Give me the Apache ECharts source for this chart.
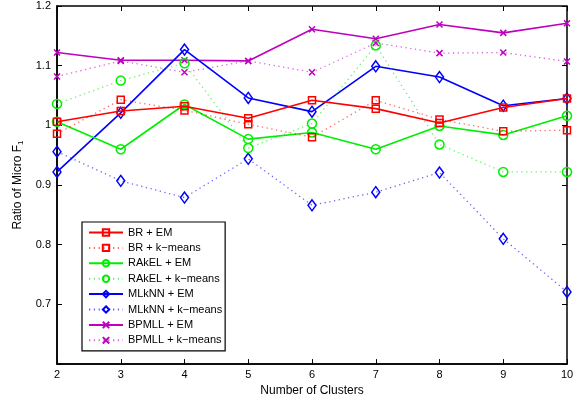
<!DOCTYPE html>
<html><head><meta charset="utf-8">
<script src="https://cdn.jsdelivr.net/npm/echarts@6/dist/echarts.min.js"></script>
<style>html,body{margin:0;padding:0;background:#fff}#c{width:578px;height:402px}</style>
</head><body><div id="c"></div>
<script>
const clusters = [2,3,4,5,6,7,8,9,10];
const seriesNames = ['BR + EM','BR + k\u2212means','RAkEL + EM','RAkEL + k\u2212means','MLkNN + EM','MLkNN + k\u2212means','BPMLL + EM','BPMLL + k\u2212means'];
const brEM        = [1.006,1.024,1.032,1.012,1.042,1.028,1.004,1.030,1.045];
const brKmeans    = [0.986,1.043,1.025,1.002,0.980,1.042,1.010,0.990,0.992];
const rakelEM     = [1.006,0.960,1.035,0.977,0.988,0.960,0.999,0.984,1.016];
const rakelKmeans = [1.036,1.075,1.104,0.962,1.003,1.134,0.968,0.922,0.922];
const mlknnEM     = [0.922,1.021,1.127,1.046,1.023,1.099,1.081,1.033,1.045];
const mlknnKmeans = [0.956,0.907,0.879,0.944,0.866,0.888,0.921,0.810,0.721];
const bpmllEM     = [1.122,1.109,1.109,1.108,1.161,1.145,1.169,1.155,1.171];
const bpmllKmeans = [1.082,1.108,1.089,1.108,1.089,1.138,1.121,1.122,1.107];
const yTicks = [0.6,0.7,0.8,0.9,1.0,1.1,1.2];

const allData = [brEM,brKmeans,rakelEM,rakelKmeans,mlknnEM,mlknnKmeans,bpmllEM,bpmllKmeans];
const colors = ['#ff0000','#ff0000','#00ee00','#00ee00','#0000ff','#0000ff','#bf00bf','#bf00bf'];
const symbols = ['rect','rect','circle','circle','diamond','diamond','path://M0,0L10,10M10,0L0,10','path://M0,0L10,10M10,0L0,10'];
const sizes = [[7,7],[7,7],[9,9],[9,9],[8,11],[8,11],[6,6],[6,6]];

const series = allData.map((d,i)=>({
  name: seriesNames[i],
  type: 'line',
  data: clusters.map((x,j)=>[x,d[j]]),
  symbol: symbols[i],
  symbolSize: sizes[i],
  showAllSymbol: true,
  z: 10-i,
  lineStyle: {color: colors[i], width: i%2===0?1.6:1.3, type: i%2===0?'solid':[1.3,3.5], opacity: i%2===0?1:0.6},
  itemStyle: {color: 'transparent', borderColor: colors[i], borderWidth: 1.5},
  emphasis: {disabled: true},
  animation: false
}));

const chart = echarts.init(document.getElementById('c'));
const font = 'Liberation Sans, Arial, sans-serif';
chart.setOption({
  animation: false,
  backgroundColor: '#fff',
  grid: {left: 57, right: 11, top: 6, bottom: 37, show: true, borderColor: '#000', borderWidth: 1.5},
  legend: {
    left: 82, top: 222, orient: 'vertical', itemGap: 4.4, itemWidth: 34, itemHeight: 8,
    backgroundColor: '#fff', borderColor: '#000', borderWidth: 1.2,
    padding: [5, 3, 5, 6],
    textStyle: {fontFamily: font, fontSize: 11, color: '#000', height: 11, lineHeight: 11},
    data: seriesNames
  },
  xAxis: [{
    type: 'value', min: 2, max: 10, interval: 1,
    name: 'Number of Clusters', nameLocation: 'middle', nameGap: 17,
    nameTextStyle: {fontFamily: font, fontSize: 12, color: '#000'},
    axisLine: {lineStyle: {color: '#000', width: 1.5}},
    axisTick: {inside: true, length: 5, lineStyle: {color: '#000'}},
    axisLabel: {fontFamily: font, fontSize: 11, color: '#000', margin: 5},
    splitLine: {show: false}
  },{
    type: 'value', min: 2, max: 10, interval: 1, position: 'top',
    axisLine: {show: false},
    axisTick: {inside: true, length: 5, lineStyle: {color: '#000'}},
    axisLabel: {show: false}, splitLine: {show: false}
  }],
  yAxis: [{
    type: 'value', min: 0.6, max: 1.2, interval: 0.1,
    name: 'Ratio of Micro F{s|1}', nameLocation: 'middle', nameGap: 27,
    nameTextStyle: {fontFamily: font, fontSize: 12, color: '#000', rich: {s: {fontFamily: font, fontSize: 8, verticalAlign: 'bottom', padding:[6,0,0,0]}}},
    axisLine: {lineStyle: {color: '#000', width: 1.5}},
    axisTick: {inside: true, length: 5, lineStyle: {color: '#000'}},
    axisLabel: {fontFamily: font, fontSize: 11, color: '#000', margin: 6,
      formatter: v => Math.abs(v-0.6)<1e-6 ? '' : (Math.abs(v-1)<1e-6 ? '1' : (Math.round(v*10)/10).toString())},
    splitLine: {show: false}
  },{
    type: 'value', min: 0.6, max: 1.2, interval: 0.1, position: 'right',
    axisLine: {show: false},
    axisTick: {inside: true, length: 5, lineStyle: {color: '#000'}},
    axisLabel: {show: false}, splitLine: {show: false}
  }],
  series: series
});
</script></body></html>
